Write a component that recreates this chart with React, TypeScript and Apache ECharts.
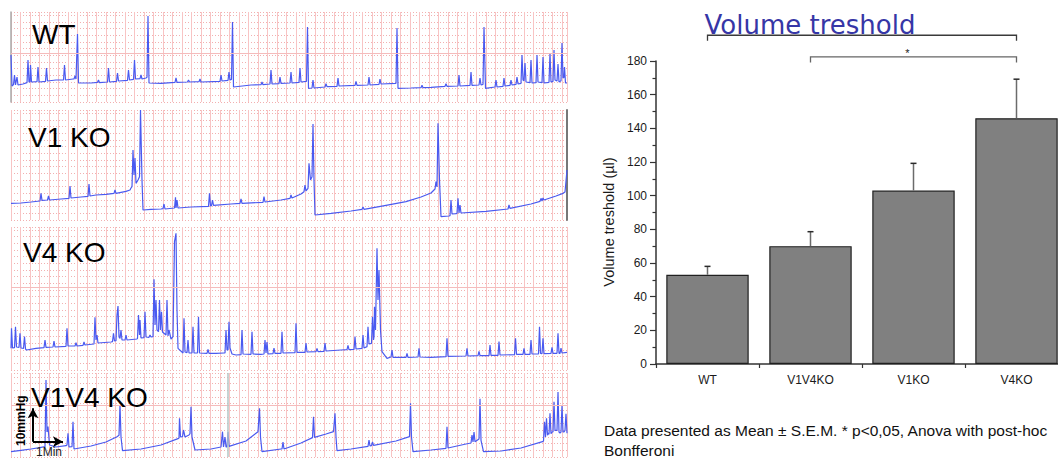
import React, { useEffect, useRef } from "react";
import * as echarts from "echarts";

// ---------- Bar chart data ----------
const CATEGORIES = ["WT", "V1V4KO", "V1KO", "V4KO"];
const MEANS = [53, 70, 103, 146];
const SEM = [5, 8.6, 16.2, 23.2];
const Y_MIN = 0;
const Y_MAX = 180;
const Y_STEP = 20;
const SIG_PAIRS: [number, number][] = [[0, 3], [1, 3]];
const SIG_LEVELS = [195.3, 182.4];
const SIG_MARKS = ["", "*"];

// ---------- Cystometry traces: [time (s), pressure (mmHg)] ----------
const PANEL_LABELS = ["WT", "V1 KO", "V4 KO", "V1V4 KO"];
const T_MAX = 1112;
const T_GRID = 19;
const P_GRID = 2;

const WT_TRACE: [number, number][] = [
  [0,14.1],[2,4.8],[5,5.2],[7,8.1],[9,5.1],[12,7.5],[14,5.1],[24,5.4],[32,5.8],[34,12.6],[36,6],[38,6],[39,11.1],[41,6],[52,6.1],[54,10.5],[56,6],[69,6.2],[71,10.2],[73,6.3],[90,6.6],[105,6.6],[107,11.1],[109,6.6],[124,6.9],[126,6.9],[128,7.8],[130,6.9],[131,7],[133,20.4],[135,5.7],[160,5.7],[173,5.9],[175,6.6],[177,5.8],[193,6],[195,10.2],[197,6],[211,6.2],[213,8.7],[215,6.3],[233,6.5],[235,9.6],[237,6.6],[245,6.8],[247,12.6],[249,6.9],[258,7],[260,8.1],[262,6.9],[270,7.2],[272,7.4],[274,25.8],[276,5.7],[300,5.6],[328,5.9],[330,7.2],[332,5.9],[353,6],[355,6.6],[357,6],[376,6.1],[378,6.9],[380,6],[418,6.2],[420,8.1],[422,6.3],[434,6.5],[436,9],[438,6.6],[441,6.8],[443,24],[445,4.5],[480,5.1],[500,5.2],[502,6],[504,5.2],[518,5.4],[520,9.6],[522,5.4],[536,5.5],[538,7.5],[540,5.6],[558,5.7],[560,9],[562,5.7],[576,5.9],[578,10.2],[580,6],[591,6.2],[593,22.5],[595,4.1],[602,4.2],[604,6.6],[606,4.2],[628,4.5],[630,5.5],[632,4.6],[652,4.7],[654,7.2],[656,4.8],[688,5],[690,6.2],[692,5],[714,5.1],[716,7.5],[718,5.1],[736,5.3],[738,6.9],[740,5.4],[770,5.6],[772,22.2],[774,4.1],[800,4.2],[820,4.3],[822,5],[824,4.3],[840,4.4],[868,4.7],[870,5.5],[872,4.7],[894,4.8],[896,8.1],[898,4.8],[918,5],[920,9],[922,5],[936,5.1],[938,7.2],[940,5.1],[944,5.3],[946,22.5],[949,4.1],[968,4.5],[970,6.6],[972,4.5],[984,4.7],[986,7.2],[988,4.8],[998,5],[1000,6.6],[1002,5.1],[1010,5.3],[1012,7.5],[1014,5.4],[1020,5.6],[1022,14.1],[1024,6.6],[1026,6.4],[1028,11.7],[1030,6],[1038,5.8],[1040,12.6],[1042,5.7],[1050,5.8],[1052,14.1],[1054,6],[1062,5.8],[1064,13.5],[1066,5.7],[1076,5.9],[1078,14.7],[1080,6],[1084,6.2],[1086,15.6],[1088,6.6],[1092,6.3],[1094,11.4],[1096,6],[1100,6.4],[1102,17.7],[1104,7.2],[1106,7.4],[1107,10.5],[1109,5.7],[1112,5.7]
];

const V1KO_TRACE: [number, number][] = [
  [0,5],[20,5.1],[40,5.4],[58,5.7],[60,8],[62,5.9],[73,6],[75,7.2],[77,6],[100,6.3],[116,6.5],[118,10.2],[120,6.6],[140,6.9],[154,7.1],[156,10.8],[158,7.2],[170,7.5],[190,7.7],[206,8],[208,9],[210,8],[230,8.6],[238,9],[240,9.6],[242,10],[244,21],[246,13.5],[248,18.6],[250,11],[254,12],[257,13],[259,33],[262,12],[264,3],[280,3.2],[300,3.3],[304,3.4],[306,4.8],[308,3.3],[327,3.6],[329,6.8],[330,3.6],[332,6],[334,3.6],[360,3.9],[395,4.1],[397,8],[399,4.2],[401,4.3],[403,6],[405,4.4],[440,4.8],[458,5],[460,6.3],[462,5],[504,5.3],[506,7],[508,5.4],[540,6],[558,6.5],[560,7.5],[562,6.6],[580,7.8],[586,8.5],[588,10.5],[590,8.7],[594,9.5],[596,17],[599,12],[602,13],[604,28.8],[606,12],[608,1.5],[640,2],[680,2.7],[702,3.2],[704,3.9],[706,3.2],[750,4.4],[790,5.5],[820,6.9],[840,8.1],[848,9.3],[850,11.5],[852,9.9],[854,29],[857,12],[860,1],[876,1.2],[878,1.3],[880,6],[882,1.8],[890,1.9],[892,2],[894,6.5],[896,2.1],[898,4.5],[900,2.1],[950,2.6],[994,3.3],[996,4.5],[998,3.5],[1040,4.8],[1058,5.6],[1060,6.5],[1062,5.7],[1064,6.6],[1066,6],[1090,7.2],[1104,8],[1108,8.4],[1112,15]
];

const V4KO_TRACE: [number, number][] = [
  [0,6.5],[1,12.5],[3,6.6],[7,6.7],[9,13],[11,6.9],[16,6.8],[18,11],[20,6.6],[25,6.5],[27,10],[29,6.3],[31,6],[50,6.5],[66,6.7],[68,9],[70,6.8],[84,6.9],[86,8.7],[88,6.9],[110,7.1],[112,12.5],[114,7.2],[128,7.2],[130,8.2],[132,7.2],[144,7.4],[146,8.4],[148,7.5],[166,7.8],[168,15.8],[170,9],[172,10.5],[174,8.1],[200,8.4],[203,8.5],[205,11],[207,8.7],[210,8.8],[212,16.5],[214,19.2],[216,9.9],[218,9.5],[220,12],[222,9],[228,9],[230,10.5],[232,9],[252,9.3],[253,9.5],[255,16.5],[257,10.5],[258,15],[260,9.6],[266,9.7],[268,17.5],[270,9.9],[276,9.8],[278,10.5],[280,9.9],[284,10],[286,27.2],[288,13.5],[290,21],[292,12],[295,11.5],[297,21],[299,12],[301,17.5],[303,11.4],[310,10.5],[312,21],[314,10.2],[316,12],[320,9.3],[324,10],[327,38.5],[330,41],[332,18],[334,6.5],[344,5.1],[346,15.5],[348,5.4],[352,5.2],[354,9],[356,5.1],[362,5.1],[364,13],[366,5.1],[373,5.1],[375,16],[377,5.1],[392,5],[394,6.2],[396,5],[410,5],[426,5.1],[428,5.1],[430,12],[432,6],[434,6],[436,14.5],[438,6.6],[442,4.8],[450,4.5],[460,4.6],[462,12],[464,4.8],[480,4.7],[482,11.5],[484,4.8],[500,4.7],[506,4.8],[508,9],[510,5.1],[512,8.4],[514,4.8],[524,4.9],[526,6.6],[528,5],[540,5],[542,11.5],[544,5.1],[568,5.2],[570,14],[572,5.3],[588,5.3],[590,8.1],[592,5.4],[610,5.5],[612,6.5],[614,5.5],[626,5.6],[628,8.1],[630,5.7],[660,6],[672,6.1],[674,7.4],[676,6.1],[686,6.2],[688,10],[690,6.3],[702,6.5],[704,10.5],[706,6.6],[712,7],[714,13],[716,7.8],[721,8],[723,16],[725,9],[726,10],[727,19],[729,12],[730,12],[732,36.5],[734,21],[736,30],[739,12],[742,5.5],[752,3.5],[760,3.9],[762,6],[764,3.8],[790,3.8],[792,5],[794,3.8],[814,3.9],[816,6.5],[818,3.9],[840,3.8],[870,4],[872,9.5],[874,4.1],[910,4.2],[912,6.5],[914,4.2],[934,4.3],[936,5.6],[938,4.3],[956,4.3],[958,7.5],[960,4.4],[974,4.4],[976,8.5],[978,4.5],[1007,4.6],[1009,9.5],[1011,4.7],[1024,4.7],[1026,6.5],[1028,4.7],[1038,4.7],[1040,9],[1042,4.8],[1055,4.8],[1057,13],[1059,5],[1062,4.9],[1064,9.5],[1066,4.9],[1080,5],[1082,6.8],[1084,5],[1092,5],[1094,11],[1096,5],[1098,5],[1100,6.6],[1102,5.1],[1112,5.3]
];

const V1V4KO_TRACE: [number, number][] = [
  [0,1.6],[20,2],[40,2.4],[60,2.9],[68,3.1],[70,23.1],[72,7.5],[74,9.1],[77,3.6],[90,3],[110,3.4],[112,3.6],[114,7.1],[116,3],[122,3.1],[124,10.6],[126,2.4],[160,3.3],[190,4.5],[212,6.1],[216,6.5],[218,15.6],[220,6],[223,1.9],[260,2.4],[300,3.6],[334,5.5],[336,5.7],[337,11.6],[339,6],[343,6.1],[345,8.1],[348,6],[356,6.6],[358,7],[360,15.1],[362,6],[368,2.1],[400,2.4],[420,3],[421,3],[423,7.6],[425,3],[426,3],[428,6],[430,3],[432,3],[434,7.6],[436,3.2],[470,4.8],[494,7.6],[497,14.6],[499,6],[502,1.6],[540,2.4],[542,2.4],[544,4.5],[546,2.4],[580,4.2],[603,5.8],[605,12.1],[607,5.9],[630,6.9],[645,7.6],[648,13.1],[650,6],[652,1.9],[680,2.4],[714,3.2],[716,5.1],[718,3.3],[721,3.4],[723,4.5],[725,3.5],[770,4.8],[797,6.1],[799,16.1],[801,6],[804,1.6],[840,2.1],[870,2.6],[872,9.1],[874,2.7],[910,3.9],[920,4.2],[922,6.6],[924,4.5],[926,7.5],[928,4.6],[936,5.4],[938,17.5],[940,5],[945,1.6],[980,1.8],[1020,2.7],[1063,4.6],[1065,4.8],[1067,10.6],[1069,6],[1071,11.6],[1073,6.5],[1074,7.2],[1076,6.8],[1078,13.1],[1080,7],[1082,7.5],[1084,7.5],[1086,16.6],[1088,8],[1089,8.1],[1092,8],[1094,19.5],[1096,7.5],[1098,7.2],[1100,7.5],[1102,15.5],[1104,7.5],[1106,7.5],[1108,8],[1110,13],[1112,7.1]
];

const TRACES = [WT_TRACE, V1KO_TRACE, V4KO_TRACE, V1V4KO_TRACE];
const PANEL_P_MAX = [27, 33, 42.9, 25.2];
const PANEL_MAJOR_P = [14.7, null, 24.9, 15.6];
const SCALE_ORIGIN: [number, number] = [44, 4.6];
const SCALE_DT = 60; // 1 min
const SCALE_DP = 10; // 10 mmHg

const FOOTNOTE = [
  "Data presented as Mean ± S.E.M. * p<0,05, Anova with post-hoc",
  "Bonfferoni",
];

const FONT = "'Liberation Sans', Arial, Helvetica, sans-serif";

// layout
const PANELS = [
  { top: 12, height: 90 },
  { top: 110, height: 110 },
  { top: 227, height: 143 },
  { top: 373, height: 84 },
];

export default function App() {
  const ref = useRef<HTMLDivElement>(null);

  useEffect(() => {
    if (!ref.current) return;
    const chart = echarts.init(ref.current, null, { renderer: "svg" });

    const grids: any[] = PANELS.map((p) => ({
      left: 11,
      top: p.top,
      width: 556,
      height: p.height,
      show: false,
    }));
    grids.push({ left: 656, top: 61, width: 412, height: 303, show: false });

    const xAxes: any[] = PANELS.map((_, i) => ({
      type: "value",
      gridIndex: i,
      min: 0,
      max: T_MAX,
      interval: T_GRID,
      axisLine: { show: false },
      axisTick: { show: false },
      axisLabel: { show: false },
      splitLine: { show: true, lineStyle: { color: "#f8c4c4", width: 1 } },
    }));
    xAxes.push({
      type: "category",
      gridIndex: 4,
      data: CATEGORIES,
      axisLine: { lineStyle: { color: "#333", width: 1.5 } },
      axisTick: { show: true, length: 4, lineStyle: { color: "#333", width: 1.2 } },
      axisLabel: { fontSize: 12, color: "#1a1a1a", margin: 10, fontFamily: FONT },
    });

    const yAxes: any[] = PANELS.map((_, i) => ({
      type: "value",
      gridIndex: i,
      min: 0,
      max: PANEL_P_MAX[i],
      interval: P_GRID,
      position: i === 1 ? "right" : "left",
      axisLine: {
        show: i === 0 || i === 1,
        onZero: false,
        lineStyle: { color: i === 1 ? "#777" : "#aaa", width: i === 1 ? 2 : 1.5 },
      },
      axisTick: { show: false },
      axisLabel: { show: false },
      splitLine: { show: true, lineStyle: { color: "#f2b0b0", width: 1, type: [1, 2] } },
    }));
    yAxes.push({
      type: "value",
      gridIndex: 4,
      min: Y_MIN,
      max: Y_MAX,
      interval: Y_STEP,
      axisLine: { show: true, lineStyle: { color: "#333", width: 1.5 } },
      axisTick: { show: true, length: 6, lineStyle: { color: "#333", width: 1.2 } },
      minorTick: { show: true, splitNumber: 2, length: 3.5, lineStyle: { color: "#333", width: 1.2 } },
      splitLine: { show: false },
      axisLabel: { fontSize: 12, color: "#1a1a1a", margin: 9, fontFamily: FONT },
    });

    const series: any[] = TRACES.map((data, i) => {
      const mlData: any[] = [];
      if (PANEL_MAJOR_P[i] != null) {
        mlData.push({ yAxis: PANEL_MAJOR_P[i], lineStyle: { color: "#f5bcbc", width: 1.2, type: "solid" } });
      }
      if (i === 3) {
        mlData.push({ xAxis: 434, lineStyle: { color: "#b3c7c6", width: 1.5, type: "solid" } });
        mlData.push([
          { coord: [SCALE_ORIGIN[0], SCALE_ORIGIN[1]], symbol: "none" },
          { coord: [SCALE_ORIGIN[0], SCALE_ORIGIN[1] + SCALE_DP], symbol: "arrow", symbolSize: [8, 10], lineStyle: { color: "#000", width: 2, type: "solid" } },
        ]);
        mlData.push([
          { coord: [SCALE_ORIGIN[0], SCALE_ORIGIN[1]], symbol: "none" },
          { coord: [SCALE_ORIGIN[0] + SCALE_DT, SCALE_ORIGIN[1]], symbol: "arrow", symbolSize: [8, 10], lineStyle: { color: "#000", width: 2, type: "solid" } },
        ]);
      }
      return {
        type: "line",
        xAxisIndex: i,
        yAxisIndex: i,
        data,
        showSymbol: false,
        symbol: "none",
        silent: true,
        lineStyle: { color: "#4a5af0", width: 1.2 },
        markLine: {
          silent: true,
          symbol: "none",
          label: { show: false },
          animation: false,
          data: mlData,
        },
      };
    });

    series.push({
      type: "bar",
      xAxisIndex: 4,
      yAxisIndex: 4,
      data: MEANS,
      barWidth: "80%",
      itemStyle: { color: "#808080", borderColor: "#202020", borderWidth: 1.2 },
      silent: true,
    });

    series.push({
      type: "custom",
      xAxisIndex: 4,
      yAxisIndex: 4,
      data: MEANS.map((m, i) => [i, m, m + SEM[i]]),
      encode: { x: 0, y: [1, 2] },
      z: 5,
      silent: true,
      renderItem: (_params: any, api: any) => {
        const base = api.coord([api.value(0), api.value(1)]);
        const top = api.coord([api.value(0), api.value(2)]);
        return {
          type: "group",
          children: [
            { type: "line", shape: { x1: base[0], y1: base[1], x2: top[0], y2: top[1] }, style: { stroke: "#6b6b6b", lineWidth: 1.5 } },
            { type: "line", shape: { x1: top[0] - 3, y1: top[1], x2: top[0] + 3, y2: top[1] }, style: { stroke: "#2a2a2a", lineWidth: 1.5 } },
          ],
        };
      },
    });

    chart.setOption({
      animation: false,
      backgroundColor: "#ffffff",
      grid: grids,
      xAxis: xAxes,
      yAxis: yAxes,
      series,
    });

    const graphics: any[] = [];
    graphics.push({
      type: "text",
      x: 810,
      y: 25,
      z: 100,
      style: { text: "Volume treshold", fontSize: 26, fontFamily: "'DejaVu Sans', sans-serif", fill: "#3636a6", align: "center", verticalAlign: "middle" },
    });
    graphics.push({
      type: "text",
      x: 609,
      y: 222,
      rotation: Math.PI / 2,
      z: 100,
      style: { text: "Volume treshold (µl)", fontSize: 14.5, fontFamily: FONT, fill: "#1a1a1a", align: "center", verticalAlign: "middle" },
    });
    SIG_PAIRS.forEach(([a, b], k) => {
      const pa = chart.convertToPixel({ gridIndex: 4 }, [a, SIG_LEVELS[k]]) as number[];
      const pb = chart.convertToPixel({ gridIndex: 4 }, [b, SIG_LEVELS[k]]) as number[];
      const col = k === 0 ? "#3a3a3a" : "#666";
      graphics.push({
        type: "polyline",
        z: 100,
        shape: { points: [[pa[0], pa[1] + 5.5], [pa[0], pa[1]], [pb[0], pb[1]], [pb[0], pb[1] + 5.5]] },
        style: { stroke: col, lineWidth: 1.3, fill: null },
      });
      if (SIG_MARKS[k]) {
        graphics.push({
          type: "text",
          x: (pa[0] + pb[0]) / 2 - 6,
          y: pa[1] - 4,
          z: 100,
          style: { text: SIG_MARKS[k], fontSize: 11, fontFamily: FONT, fill: "#222", align: "center", verticalAlign: "middle" },
        });
      }
    });
    FOOTNOTE.forEach((line, k) => {
      graphics.push({
        type: "text",
        x: 604,
        y: 430 + k * 20,
        z: 100,
        style: { text: line, fontSize: 15.5, fontFamily: FONT, fill: "#111", align: "left", verticalAlign: "middle" },
      });
    });
    const labelPos = [[32, 34.5], [28, 137], [23, 252], [31, 397]];
    PANEL_LABELS.forEach((t, k) => {
      graphics.push({
        type: "text",
        x: labelPos[k][0],
        y: labelPos[k][1],
        z: 100,
        style: { text: t, fontSize: 28, fontFamily: FONT, fill: "#000", align: "left", verticalAlign: "middle" },
      });
    });
    const sp = chart.convertToPixel({ gridIndex: 3 }, SCALE_ORIGIN) as number[];
    graphics.push({
      type: "text",
      x: sp[0] - 12,
      y: sp[1] - 21,
      rotation: Math.PI / 2,
      z: 100,
      style: { text: "10mmHg", fontSize: 12, fontWeight: "bold", fontFamily: FONT, fill: "#000", align: "center", verticalAlign: "middle" },
    });
    graphics.push({
      type: "text",
      x: sp[0] + 16,
      y: sp[1] + 10,
      z: 100,
      style: { text: "1Min", fontSize: 12, fontFamily: FONT, fill: "#222", align: "center", verticalAlign: "middle" },
    });

    chart.setOption({ graphic: graphics });

    return () => chart.dispose();
  }, []);

  return (
    <div
      ref={ref}
      style={{ position: "fixed", left: 0, top: 0, width: 1070, height: 459, background: "#fff" }}
    />
  );
}
